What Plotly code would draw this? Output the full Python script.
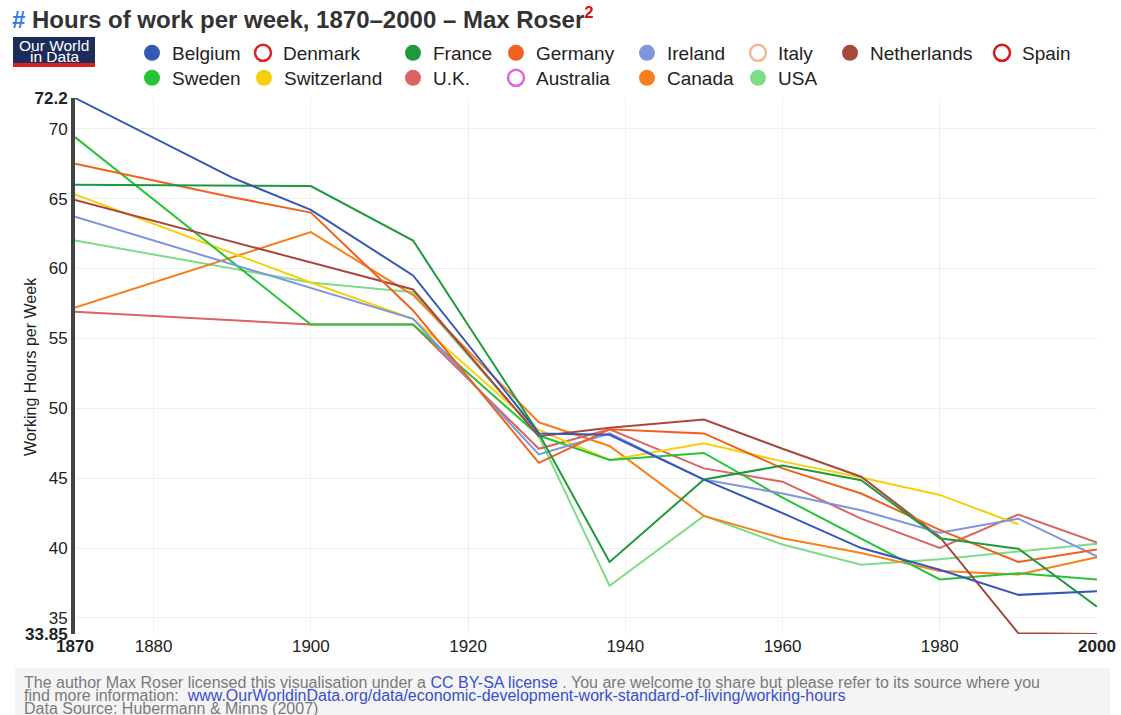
import plotly.graph_objects as go

# ---------------- data ----------------
years = [1870, 1890, 1900, 1913, 1929, 1938, 1950, 1960, 1970, 1980, 1990, 2000]

belgium     = [72.2, 66.5, 64.2, 59.5, 48.2, 48.1, 44.9, 42.5, 40.0, 38.45, 36.65, 36.9]
france      = [66.0, None, 65.9, 62.0, 48.2, 39.0, 44.9, 45.9, 44.85, 40.7, 39.95, 35.8]
germany     = [67.5, 65.1, 64.0, 57.0, 46.1, 48.5, 48.2, 45.7, 43.9, 41.3, 39.0, 39.9]
ireland     = [63.7, None, 58.6, 56.4, 46.7, 48.2, 44.9, 43.9, 42.7, 41.1, 42.1, 39.4]
netherlands = [64.9, None, 60.4, 58.5, 48.0, 48.6, 49.2, 47.1, 45.1, 40.8, 33.9, 33.85]
sweden      = [69.4, None, 56.0, 56.0, 48.05, 46.3, 46.8, 43.6, 40.7, 37.75, 38.2, 37.75]
switzerland = [65.3, None, 59.0, 56.4, 48.45, 46.3, 47.5, 46.2, 45.05, 43.8, 41.7, None]
uk          = [56.9, None, 56.0, 56.0, 47.1, 48.5, 45.7, 44.75, 42.1, 40.0, 42.4, 40.4]
canada      = [57.2, None, 62.6, 58.1, 49.0, 47.3, 42.3, 40.7, 39.65, 38.35, 38.1, 39.35]
usa         = [62.0, None, 59.0, 58.3, 48.0, 37.3, 42.3, 40.25, 38.8, 39.2, 39.75, 40.3]

legend_order = ["Belgium", "Denmark", "France", "Germany", "Ireland", "Italy",
                "Netherlands", "Spain", "Sweden", "Switzerland", "U.K.",
                "Australia", "Canada", "USA"]
hidden = ["Denmark", "Italy", "Spain", "Australia"]

series = {
    "Belgium": belgium, "France": france, "Germany": germany, "Ireland": ireland,
    "Netherlands": netherlands, "Sweden": sweden, "Switzerland": switzerland,
    "U.K.": uk, "Canada": canada, "USA": usa,
}

colors = {
    "Belgium": "#3558b8", "Denmark": "#d8262b", "France": "#1e9a3c",
    "Germany": "#f2601d", "Ireland": "#7f95dc", "Italy": "#f3b896",
    "Netherlands": "#a8483c", "Spain": "#e3131b", "Sweden": "#27c436",
    "Switzerland": "#f7d00c", "U.K.": "#dd6262", "Australia": "#dd66d9",
    "Canada": "#f6801c", "USA": "#7ddc86",
}

y_tickvals = [33.85, 35, 40, 45, 50, 55, 60, 65, 70, 72.2]
y_ticktext = ["<b>33.85</b>", "35", "40", "45", "50", "55", "60", "65", "70", "<b>72.2</b>"]
x_tickvals = [1870, 1880, 1900, 1920, 1940, 1960, 1980, 2000]
x_ticktext = ["<b>1870</b>", "1880", "1900", "1920", "1940", "1960", "1980", "<b>2000</b>"]

# ---------------- geometry ----------------
W, H = 1121, 715
ML, MR, MT, MB = 75, 24, 98, 81
PW = W - ML - MR
PH = H - MT - MB


def px_x(px):
    return (px - ML) / PW


def px_y(py):
    return (H - MB - py) / PH


# legend entry positions (text start x, row centre y)
legend_pos = {
    "Belgium": (168, 53), "Denmark": (279, 53), "France": (429, 53),
    "Germany": (532, 53), "Ireland": (663, 53), "Italy": (774, 53),
    "Netherlands": (866, 53), "Spain": (1018, 53),
    "Sweden": (168, 78), "Switzerland": (280, 78), "U.K.": (429, 78),
    "Australia": (532, 78), "Canada": (663, 78), "USA": (774, 78),
}

FONT = "Liberation Sans, Arial, sans-serif"

fig = go.Figure()

line_order = ["USA", "Canada", "U.K.", "Switzerland", "Sweden", "Netherlands",
              "Ireland", "Germany", "France", "Belgium"]
for name in line_order:
    fig.add_trace(go.Scatter(
        x=years, y=series[name], mode="lines", connectgaps=True,
        line=dict(color=colors[name], width=2),
        name=name, legendgroup=name, showlegend=False,
    ))

layout_legends = {}
for i, name in enumerate(legend_order):
    key = "legend" if i == 0 else f"legend{i + 1}"
    c = colors[name]
    is_hidden = name in hidden
    fig.add_trace(go.Scatter(
        x=[None], y=[None], mode="markers", name=name, legendgroup=name,
        legend=key, showlegend=True,
        marker=dict(symbol="circle-open" if is_hidden else "circle", size=16,
                    color=c, line=dict(color=c, width=2.5 if is_hidden else 0)),
    ))
    tx, ty = legend_pos[name]
    layout_legends[key] = dict(
        x=(tx - 36) / W, y=1 - ty / H, xref="container", yref="container",
        xanchor="left", yanchor="middle", bgcolor="rgba(0,0,0,0)",
        font=dict(family=FONT, size=19, color="#222"), itemwidth=30,
    )

shapes = [
    # footer band
    dict(type="rect", xref="paper", yref="paper", layer="below",
         x0=px_x(15), x1=px_x(1110), y0=px_y(668), y1=px_y(715),
         fillcolor="#f4f4f4", line=dict(width=0)),
    # OWID logo box
    dict(type="rect", xref="paper", yref="paper",
         x0=px_x(13), x1=px_x(95), y0=px_y(63), y1=px_y(37),
         fillcolor="#1c2c5c", line=dict(width=0)),
    dict(type="rect", xref="paper", yref="paper",
         x0=px_x(13), x1=px_x(95), y0=px_y(67), y1=px_y(63),
         fillcolor="#d8231f", line=dict(width=0)),
]

link = "#3a4fd0"
grey = "#7a7a7a"
FOOT = 16
annotations = [
    dict(text="Our World", xref="paper", yref="paper", x=px_x(54), y=px_y(45),
         showarrow=False, font=dict(family=FONT, size=15.5, color="white"),
         xanchor="center", yanchor="middle"),
    dict(text="in Data", xref="paper", yref="paper", x=px_x(54), y=px_y(56.5),
         showarrow=False, font=dict(family=FONT, size=15.5, color="white"),
         xanchor="center", yanchor="middle"),
    dict(text="Working Hours per Week", xref="paper", yref="paper",
         x=px_x(30), y=px_y(367), textangle=-90, showarrow=False,
         font=dict(family=FONT, size=16, color="#222"),
         xanchor="center", yanchor="middle"),
    dict(text=("The author Max Roser licensed this visualisation under a "
               f"<span style='color:{link}'>CC BY-SA license</span> . You are welcome "
               "to share but please refer to its source where you"),
         xref="paper", yref="paper", x=px_x(22), y=px_y(682), showarrow=False,
         font=dict(family=FONT, size=FOOT, color=grey), xanchor="left", yanchor="middle"),
    dict(text=("find more information:  "
               f"<span style='color:{link}'>www.OurWorldinData.org/data/economic-development-"
               "work-standard-of-living/working-hours</span>"),
         xref="paper", yref="paper", x=px_x(22), y=px_y(695), showarrow=False,
         font=dict(family=FONT, size=FOOT, color=grey), xanchor="left", yanchor="middle"),
    dict(text="Data Source: Hubermann & Minns (2007)",
         xref="paper", yref="paper", x=px_x(22), y=px_y(708), showarrow=False,
         font=dict(family=FONT, size=FOOT, color=grey), xanchor="left", yanchor="middle"),
]

fig.update_layout(
    width=W, height=H,
    margin=dict(l=ML, r=MR, t=MT, b=MB, autoexpand=False),
    paper_bgcolor="white", plot_bgcolor="white",
    font=dict(family=FONT, color="#222"),
    title=dict(
        text=("<b><span style='color:#2f7be6'>#</span> Hours of work per week, "
              "1870–2000 – Max Roser<sup><span style='color:#e01010'>2</span></sup></b>"),
        x=12 / W, xref="container", xanchor="left",
        y=1 - 20 / H, yref="container", yanchor="middle",
        font=dict(family=FONT, size=24, color="#333"),
    ),
    xaxis=dict(range=[1870, 2000], tickmode="array", tickvals=x_tickvals,
               ticktext=x_ticktext, showgrid=True, gridcolor="#efefef", gridwidth=1,
               zeroline=False, showline=False, ticks="",
               tickfont=dict(family=FONT, size=17, color="#222")),
    yaxis=dict(range=[33.85, 72.2], tickmode="array", tickvals=y_tickvals,
               ticktext=y_ticktext, showgrid=True, gridcolor="#efefef", gridwidth=1,
               zeroline=False, showline=True, linecolor="#444", linewidth=4,
               ticks="", tickfont=dict(family=FONT, size=17, color="#222")),
    shapes=shapes, annotations=annotations,
    showlegend=True,
    **layout_legends,
)

fig.write_html("out.html", config={"displayModeBar": False},
               post_script="document.body.style.margin='0px';")
